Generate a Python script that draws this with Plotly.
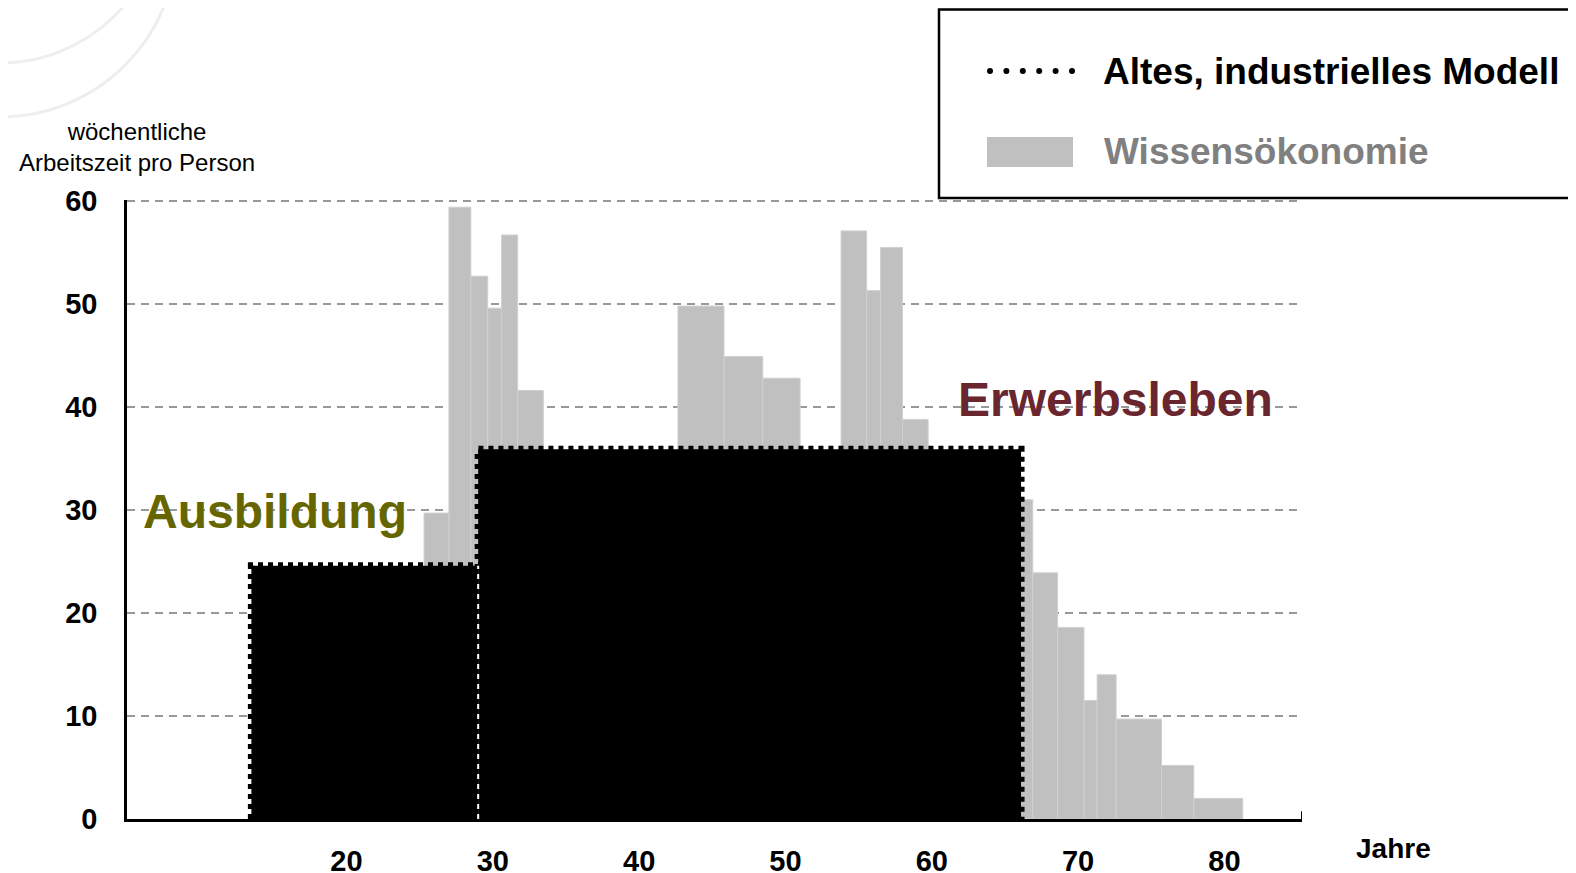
import plotly.graph_objects as go

# ---------------- data ----------------
# Wissensökonomie (grey step bars): age from, age to, weekly hours
wiss_start = [25.3, 27.0, 28.5, 29.65, 30.6, 31.7, 42.65, 45.8, 48.45, 53.8, 55.55, 56.5, 58.0, 65.0, 66.9, 68.6, 70.4, 71.3, 72.6, 75.7, 77.9]
wiss_end   = [27.0, 28.5, 29.65, 30.6, 31.7, 33.45, 45.8, 48.45, 51.0, 55.55, 56.5, 58.0, 59.75, 66.9, 68.6, 70.4, 71.3, 72.6, 75.7, 77.9, 81.25]
wiss_hours = [29.7, 59.4, 52.7, 49.6, 56.7, 41.6, 49.8, 44.9, 42.8, 57.1, 51.3, 55.5, 38.8, 31.0, 23.9, 18.6, 11.5, 14.0, 9.7, 5.2, 2.0]

# Altes, industrielles Modell (black blocks)
old_start = [13.5, 29.0]
old_end   = [29.0, 66.1]
old_hours = [24.6, 35.9]

x_ticks = [20, 30, 40, 50, 60, 70, 80]
y_ticks = [0, 10, 20, 30, 40, 50, 60]

FONT = "Liberation Sans, Arial, sans-serif"
OFF = 8                      # page offset of the figure (body margin)
W, H = 1576 - OFF, 873 - OFF
# plot area in page pixels: x 127..1302, y 200..819
ML = 127 - OFF
MT = 200 - OFF
MR = W - (1302 - OFF)
MB = H - (819 - OFF)
PW, PH = W - ML - MR, H - MT - MB
XMIN, XMAX = 5, 85.3
YMAX = 60.1


def px(x):
    """page pixel x -> paper coordinate"""
    return (x - OFF - ML) / PW


def py(y):
    """page pixel y -> paper coordinate"""
    return (H - MB - (y - OFF)) / PH


fig = go.Figure()

# grey bars
fig.add_trace(go.Bar(
    x=[(a + b) / 2 for a, b in zip(wiss_start, wiss_end)],
    y=wiss_hours,
    width=[b - a for a, b in zip(wiss_start, wiss_end)],
    marker=dict(color="#c0c0c0", line=dict(color="#d0d0d0", width=1)),
    name="Wissensökonomie",
    showlegend=False,
))

# black blocks with dotted edge
for a, b, h in zip(old_start, old_end, old_hours):
    fig.add_trace(go.Scatter(
        x=[a, a, b, b, a], y=[0, h, h, 0, 0],
        mode="lines", fill="toself", fillcolor="black",
        line=dict(color="black", width=7, dash="5px,5px"),
        showlegend=False, hoverinfo="skip",
    ))

# white dotted seam between the two blocks
fig.add_trace(go.Scatter(
    x=[old_end[0], old_end[0]], y=[0, old_hours[0]],
    mode="lines", line=dict(color="white", width=2, dash="5px,5px"),
    showlegend=False, hoverinfo="skip",
))

shapes = []
# faint decorative arcs in the top-left corner
for cx, cy, r in [(0, -60, 177), (0, -100, 163)]:
    shapes.append(dict(type="circle", xref="paper", yref="paper",
                       x0=px(cx - r), x1=px(cx + r), y0=py(cy + r), y1=py(cy - r),
                       line=dict(color="#eeeeee", width=3), layer="below"))

# end tick of the x axis
shapes.append(dict(type="line", xref="x", yref="y", x0=XMAX, x1=XMAX, y0=0, y1=0.75,
                   line=dict(color="black", width=2)))

# legend box
shapes.append(dict(type="rect", xref="paper", yref="paper",
                   x0=px(939), x1=px(1600), y0=py(198), y1=py(9.5),
                   line=dict(color="black", width=2.5), fillcolor="white"))
# legend: dotted symbol
for i in range(6):
    cxp = 990 + i * 16.4
    shapes.append(dict(type="circle", xref="paper", yref="paper",
                       x0=px(cxp - 3), x1=px(cxp + 3), y0=py(74), y1=py(68),
                       line=dict(width=0), fillcolor="black"))
# legend: grey box symbol
shapes.append(dict(type="rect", xref="paper", yref="paper",
                   x0=px(987), x1=px(1073), y0=py(167), y1=py(137),
                   line=dict(width=0), fillcolor="#c0c0c0"))

annotations = [
    dict(text="Altes, industrielles Modell", x=px(1101), y=py(71), xref="paper", yref="paper",
         xanchor="left", yanchor="middle", showarrow=False,
         font=dict(family=FONT, size=37, color="black", weight="bold")),
    dict(text="Wissensökonomie", x=px(1102), y=py(151), xref="paper", yref="paper",
         xanchor="left", yanchor="middle", showarrow=False,
         font=dict(family=FONT, size=37, color="#808080", weight="bold")),
    dict(text="wöchentliche<br>Arbeitszeit pro Person", x=px(137), y=py(147), xref="paper", yref="paper",
         xanchor="center", yanchor="middle", showarrow=False, align="center",
         font=dict(family=FONT, size=24, color="black")),
    dict(text="Jahre", x=px(1393), y=py(848), xref="paper", yref="paper",
         xanchor="center", yanchor="middle", showarrow=False,
         font=dict(family=FONT, size=28, color="black", weight="bold")),
    dict(text="Ausbildung", x=px(275), y=py(511), xref="paper", yref="paper",
         xanchor="center", yanchor="middle", showarrow=False,
         font=dict(family=FONT, size=48, color="#666600", weight="bold")),
    dict(text="Erwerbsleben", x=px(1115), y=py(399), xref="paper", yref="paper",
         xanchor="center", yanchor="middle", showarrow=False,
         font=dict(family=FONT, size=48, color="#69262f", weight="bold")),
]

fig.update_layout(
    width=W, height=H,
    margin=dict(l=ML, r=MR, t=MT, b=MB, pad=0, autoexpand=False),
    paper_bgcolor="white", plot_bgcolor="white",
    barmode="overlay",
    showlegend=False,
    shapes=shapes,
    annotations=annotations,
    font=dict(family=FONT, color="black"),
    xaxis=dict(range=[XMIN, XMAX], tickvals=x_ticks, showgrid=False, zeroline=False,
               showline=True, linecolor="black", linewidth=2.5, ticks="",
               automargin=False, ticklabelstandoff=14,
               tickfont=dict(family=FONT, size=29, color="black", weight="bold")),
    yaxis=dict(range=[0, YMAX], tickvals=y_ticks, showgrid=True, gridcolor="#999999",
               gridwidth=2, griddash="8px,6px", zeroline=False,
               showline=True, linecolor="black", linewidth=2.5, ticks="",
               automargin=False, ticklabelstandoff=21,
               tickfont=dict(family=FONT, size=29, color="black", weight="bold")),
)

fig.write_html("out.html")
